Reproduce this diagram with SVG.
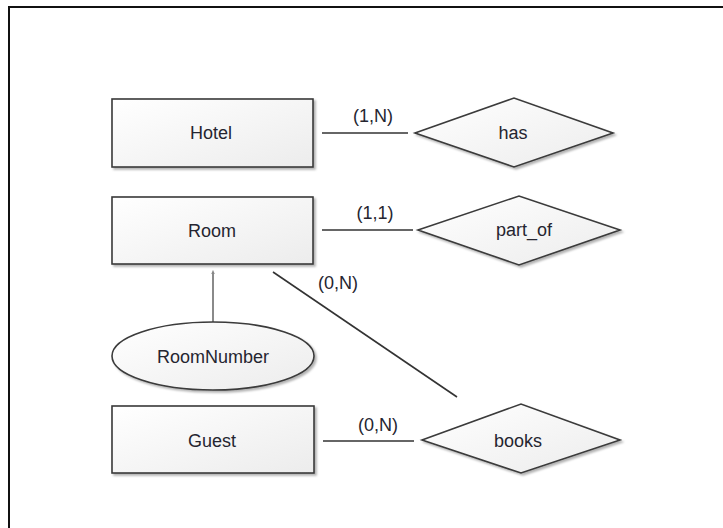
<svg xmlns="http://www.w3.org/2000/svg" width="723" height="528" viewBox="0 0 723 528">
  <defs>
    <linearGradient id="fillGrad" x1="0" y1="0" x2="1" y2="1">
      <stop offset="0" stop-color="#ffffff"/>
      <stop offset="1" stop-color="#ececec"/>
    </linearGradient>
    <filter id="shadow" x="-10%" y="-10%" width="130%" height="140%">
      <feDropShadow dx="2" dy="2" stdDeviation="1.2" flood-color="#000" flood-opacity="0.3"/>
    </filter>
    <marker id="dot" viewBox="0 0 6 6" refX="3" refY="3" markerWidth="2.2" markerHeight="2.2" orient="auto">
      <path d="M0,0.5 L6,3 L0,5.5 Z" fill="#888"/>
    </marker>
    <style>
      .shape { fill: url(#fillGrad); stroke: #3a3a3a; stroke-width: 1.6; filter: url(#shadow); }
      .lbl { font-family: "Liberation Sans", Arial, sans-serif; font-size: 18px; fill: #252530; text-anchor: middle; }
      .edge { stroke: #333; stroke-width: 1.6; fill: none; }
      .attr { stroke: #8a8a8a; stroke-width: 2; fill: none; }
    </style>
  </defs>

  <rect width="723" height="528" fill="#ffffff"/>
  <!-- page frame (top and left edges visible) -->
  <path d="M9,740 L9,7 L740,7" fill="none" stroke="#111" stroke-width="2"/>

  <!-- connectors -->
  <g id="connectors">
    <line class="edge" x1="322" y1="133" x2="408" y2="133"/>
    <text class="lbl" x="373" y="122">(1,N)</text>
    <line class="edge" x1="322" y1="230" x2="413" y2="230"/>
    <text class="lbl" x="375" y="219">(1,1)</text>
    <line class="edge" x1="273" y1="272" x2="457" y2="397"/>
    <text class="lbl" x="338" y="289">(0,N)</text>
    <line class="edge" x1="323" y1="441" x2="414" y2="441"/>
    <text class="lbl" x="378" y="431">(0,N)</text>
    <line class="attr" x1="213" y1="322" x2="213" y2="272" marker-end="url(#dot)"/>
  </g>

  <g id="hotel">
    <rect class="shape" x="112" y="99" width="201" height="68"/>
    <text class="lbl" x="211" y="139">Hotel</text>
  </g>
  <g id="room">
    <rect class="shape" x="112" y="197" width="201" height="67"/>
    <text class="lbl" x="212" y="237">Room</text>
  </g>
  <g id="roomnumber">
    <ellipse class="shape" cx="213" cy="356" rx="101" ry="34"/>
    <text class="lbl" x="213" y="363">RoomNumber</text>
  </g>
  <g id="guest">
    <rect class="shape" x="112" y="406" width="202" height="67"/>
    <text class="lbl" x="212" y="447">Guest</text>
  </g>
  <g id="has">
    <polygon class="shape" points="415,133 514,98 613,133 514,167"/>
    <text class="lbl" x="513" y="139">has</text>
  </g>
  <g id="part_of">
    <polygon class="shape" points="418,230 519,196 620,230 519,265"/>
    <text class="lbl" x="524" y="236">part_of</text>
  </g>
  <g id="books">
    <polygon class="shape" points="422,440 521,404 620,440 521,473"/>
    <text class="lbl" x="518" y="447">books</text>
  </g>
</svg>
